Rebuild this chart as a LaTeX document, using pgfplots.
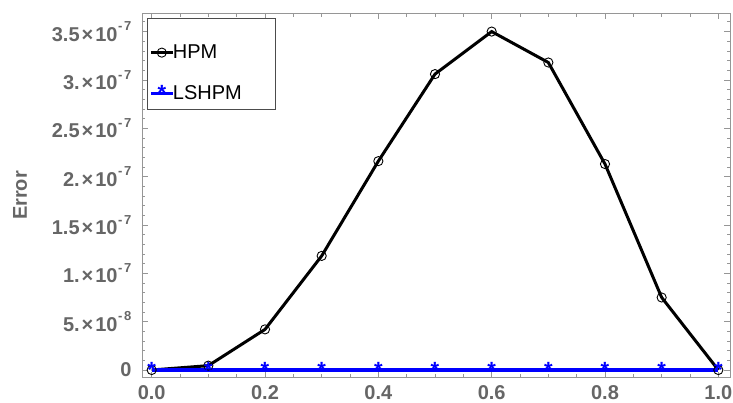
\documentclass[border=0pt]{standalone}
\usepackage{fontspec}
\setmainfont{Liberation Sans}
\usepackage{pgfplots}
\pgfplotsset{compat=1.18}
\definecolor{lblgray}{RGB}{102,102,102}
\definecolor{framegray}{RGB}{150,150,150}
\newcommand{\sci}[2]{#1\kern2pt×\kern2pt10\kern0.5pt\raisebox{10.5pt}{\fontsize{13}{13}\selectfont\bfseries -\kern1.8pt#2}}
\begin{document}
\begin{tikzpicture}
\begin{axis}[
  scale only axis, width=588pt, height=364.4pt,
  xmin=-0.0171, xmax=1.0206, ymin=-7.96e-9, ymax=3.689e-7,
  axis line style={framegray, line width=0.8pt},
  tick style={framegray, line width=0.8pt},
  tick align=inside,
  major tick length=6pt, minor tick length=3.5pt,
  xtick={0,0.2,0.4,0.6,0.8,1.0},
  xticklabels={0.0,0.2,0.4,0.6,0.8,1.0},
  minor xtick={0.05,0.1,0.15,0.25,0.3,0.35,0.45,0.5,0.55,0.65,0.7,0.75,0.85,0.9,0.95},
  ytick={0,5e-8,1e-7,1.5e-7,2e-7,2.5e-7,3e-7,3.5e-7},
  yticklabels={0,\sci{5.}{8},\sci{1.}{7},\sci{1.5}{7},\sci{2.}{7},\sci{2.5}{7},\sci{3.}{7},\sci{3.5}{7}},
  minor ytick={1e-8,2e-8,3e-8,4e-8,6e-8,7e-8,8e-8,9e-8,11e-8,12e-8,13e-8,14e-8,16e-8,17e-8,18e-8,19e-8,21e-8,22e-8,23e-8,24e-8,26e-8,27e-8,28e-8,29e-8,31e-8,32e-8,33e-8,34e-8,36e-8},
  scaled y ticks=false,
  ticklabel style={font=\fontsize{20}{24}\selectfont\bfseries, text=lblgray},
  xticklabel style={yshift=-4pt},
  yticklabel style={xshift=-7pt},
  ylabel={Error},
  ylabel style={at={(axis description cs:0,0.5)}, anchor=center, yshift=122pt, font=\fontsize{20}{24}\selectfont\bfseries, text=lblgray},
  legend style={at={(rel axis cs:0,1)}, anchor=north west, xshift=7pt, yshift=-28.5pt,
    draw=none, fill=none, font=\fontsize{20}{24}\selectfont, text=black,
    inner sep=0pt, row sep=19.5pt, column sep=-2pt,
    nodes={inner xsep=0.5pt, inner ysep=3pt}},
  legend cell align=left,
  legend image code/.code={\draw[mark repeat=2,mark phase=2,#1] plot coordinates {(0pt,0pt) (11pt,0pt) (22pt,0pt)};},
]
\coordinate (sw) at (rel axis cs:0,0);
\addplot[black, line width=3pt, mark=o, mark size=4.6pt, mark options={line width=0.9pt, solid}]
  coordinates {(0,0) (0.1,4.5e-9) (0.2,4.2e-8) (0.3,1.18e-7) (0.4,2.16e-7) (0.5,3.06e-7) (0.6,3.5e-7) (0.7,3.18e-7) (0.8,2.13e-7) (0.9,7.5e-8) (1.0,0)};
\addlegendentry{HPM}
\addplot[blue, line width=3.2pt, mark=text, text mark={*}, text mark as node=true,
  text mark style={font=\fontsize{22}{22}\selectfont\bfseries, text=blue, inner sep=0pt, anchor=center}]
  coordinates {(0,0) (0.1,0) (0.2,0) (0.3,0) (0.4,0) (0.5,0) (0.6,0) (0.7,0) (0.8,0) (0.9,0) (1.0,0)};
\addlegendentry{LSHPM}
\draw[black!70, line width=0.8pt] (rel axis cs:0.0097,0.7374) rectangle (rel axis cs:0.2262,0.9863);
\end{axis}
\pgfresetboundingbox
\path[use as bounding box] ([shift={(-142pt,-25.3pt)}]sw) rectangle ++(733pt,403pt);
\end{tikzpicture}
\end{document}
